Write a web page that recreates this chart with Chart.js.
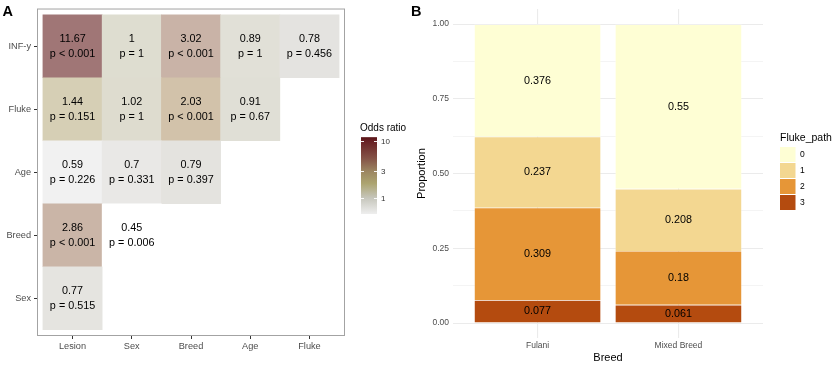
<!DOCTYPE html>
<html lang="en">
  <head>
    <meta charset="UTF-8" />
    <title>Odds ratio / Fluke path by breed</title>
    <script src="https://cdn.jsdelivr.net/npm/chart.js"></script>
    <style>
      body {
        margin: 0;
        background: #fff;
      }
      #wrap {
        position: relative;
        width: 835px;
        height: 368px;
      }
      #chartA {
        position: absolute;
        left: 0;
        top: 0;
      }
      #chartB {
        position: absolute;
        left: 410px;
        top: 0;
      }
    </style>
  </head>
  <body>
    <div id="wrap">
      <canvas id="chartA" width="410" height="368"></canvas>
      <canvas id="chartB" width="425" height="368"></canvas>
    </div>
  </body>
  <script>
    // ---- panel A : odds ratio matrix ----
    const colNames = ["Lesion", "Sex", "Breed", "Age", "Fluke"];
    const rowNames = ["Sex", "Breed", "Age", "Fluke", "INF-y"]; // bottom -> top
    const orInf = [11.67, 1, 3.02, 0.89, 0.78];
    const pInf = ["< 0.001", "= 1", "< 0.001", "= 1", "= 0.456"];
    const orFluke = [1.44, 1.02, 2.03, 0.91];
    const pFluke = ["= 0.151", "= 1", "< 0.001", "= 0.67"];
    const orAge = [0.59, 0.7, 0.79];
    const pAge = ["= 0.226", "= 0.331", "= 0.397"];
    const orBreed = [2.86, 0.45];
    const pBreed = ["< 0.001", "= 0.006"];
    const orSex = [0.77];
    const pSex = ["= 0.515"];
    const oddsTicks = [1, 3, 10];

    // ---- panel B : fluke path proportions ----
    const breeds = ["Fulani", "Mixed Breed"];
    const flukeLevels = ["0", "1", "2", "3"];
    const path0 = [0.376, 0.55];
    const path1 = [0.237, 0.208];
    const path2 = [0.309, 0.18];
    const path3 = [0.077, 0.061];
    const propTicks = [0, 0.25, 0.5, 0.75, 1];

    const FONT = '"Liberation Sans", Arial, sans-serif';

    // tile colours (already faded like the figure), log scale
    const cellStops = [
      [0.45, [255, 255, 255]],
      [0.6, [240, 240, 240]],
      [0.8, [227, 226, 222]],
      [1, [222, 221, 208]],
      [1.45, [214, 207, 180]],
      [2, [210, 195, 170]],
      [3, [201, 179, 167]],
      [11.67, [160, 118, 118]],
    ];
    // colourbar colours
    const barStops = [
      [0.45, [238, 238, 238]],
      [1, [198, 198, 188]],
      [1.8, [172, 164, 112]],
      [3, [155, 132, 96]],
      [5, [132, 82, 70]],
      [10, [104, 32, 36]],
      [11.67, [88, 18, 22]],
    ];

    const lerpColor = (stops, v) => {
      const lv = Math.log(v);
      if (lv <= Math.log(stops[0][0])) return stops[0][1];
      for (let i = 1; i < stops.length; i++) {
        const a = Math.log(stops[i - 1][0]);
        const b = Math.log(stops[i][0]);
        if (lv <= b) {
          const t = (lv - a) / (b - a);
          return stops[i - 1][1].map((c, k) => c + (stops[i][1][k] - c) * t);
        }
      }
      return stops[stops.length - 1][1];
    };
    const rgb = (c) => "rgb(" + c.map(Math.round).join(",") + ")";
    const cellColor = (v) => rgb(lerpColor(cellStops, v));

    const rowsData = [
      [orSex, pSex],
      [orBreed, pBreed],
      [orAge, pAge],
      [orFluke, pFluke],
      [orInf, pInf],
    ];

    const heatSets = rowsData.map(([ors, ps], r) => ({
      label: rowNames[r],
      data: ors.map((v, c) => ({ x: c + 1, y: [r + 0.5, r + 1.5], or: v, p: ps[c] })),
      backgroundColor: (ctx) => (ctx.raw ? cellColor(ctx.raw.or) : "#fff"),
      borderWidth: 0,
      grouped: false,
      barPercentage: 1,
      categoryPercentage: 1,
    }));

    const cellText = {
      id: "cellText",
      afterDatasetsDraw(chart) {
        const ctx = chart.ctx;
        ctx.save();
        ctx.font = "10.8px " + FONT;
        ctx.fillStyle = "#000";
        ctx.textAlign = "center";
        ctx.textBaseline = "middle";
        chart.data.datasets.forEach((ds, i) => {
          chart.getDatasetMeta(i).data.forEach((bar, j) => {
            const d = ds.data[j];
            const cy = (bar.y + bar.base) / 2;
            ctx.fillText(String(d.or), bar.x, cy - 7.5);
            ctx.fillText("p " + d.p, bar.x, cy + 7.5);
          });
        });
        ctx.restore();
      },
    };

    const frameAndGuide = {
      id: "frameAndGuide",
      afterDraw(chart) {
        const ctx = chart.ctx;
        const a = chart.chartArea;
        ctx.save();
        ctx.strokeStyle = "#a3a3a3";
        ctx.lineWidth = 1;
        ctx.strokeRect(a.left + 0.5, a.top + 0.5, a.right - a.left - 1, a.bottom - a.top - 1);

        // panel tag
        ctx.fillStyle = "#000";
        ctx.font = "bold 14.5px " + FONT;
        ctx.textBaseline = "alphabetic";
        ctx.fillText("A", 2.5, 15.5);

        // colourbar
        const ys = (v) => 198 - 57 * Math.log10(v);
        const bx = 361, bw = 16;
        const top = ys(11.67), bottom = 214;
        const g = ctx.createLinearGradient(0, top, 0, bottom);
        barStops.forEach(([v, c]) => {
          const t = Math.min(1, Math.max(0, (ys(v) - top) / (bottom - top)));
          g.addColorStop(t, rgb(c));
        });
        ctx.fillStyle = g;
        ctx.fillRect(bx, top, bw, bottom - top);

        ctx.strokeStyle = "rgba(255,255,255,0.9)";
        ctx.lineWidth = 1;
        ctx.font = "8px " + FONT;
        ctx.textBaseline = "middle";
        oddsTicks.forEach((v) => {
          const y = Math.round(ys(v)) + 0.5;
          ctx.beginPath();
          ctx.moveTo(bx, y);
          ctx.lineTo(bx + 3, y);
          ctx.moveTo(bx + bw - 3, y);
          ctx.lineTo(bx + bw, y);
          ctx.stroke();
          ctx.fillStyle = "#333";
          ctx.fillText(String(v), bx + bw + 4, y);
        });

        ctx.fillStyle = "#000";
        ctx.font = "10px " + FONT;
        ctx.textBaseline = "alphabetic";
        ctx.fillText("Odds ratio", 360, 131);
        ctx.restore();
      },
    };

    new Chart(document.getElementById("chartA"), {
      type: "bar",
      data: { datasets: heatSets },
      options: {
        responsive: false,
        animation: false,
        layout: { padding: { left: 0, top: 5, right: 65, bottom: 0 } },
        plugins: { legend: { display: false }, tooltip: { enabled: false } },
        scales: {
          x: {
            type: "linear",
            offset: false,
            min: 0.4,
            max: 5.6,
            afterBuildTicks: (s) => {
              s.ticks = colNames.map((_, i) => ({ value: i + 1 }));
            },
            afterFit: (s) => {
              s.height = 32;
            },
            grid: { offset: false, drawOnChartArea: false, drawTicks: true, tickLength: 3, color: "#333" },
            border: { display: false },
            ticks: {
              padding: 1.5,
              color: "#4d4d4d",
              font: { family: FONT, size: 9.2 },
              callback: (v) => colNames[v - 1],
            },
          },
          y: {
            type: "linear",
            min: 0.4,
            max: 5.6,
            afterBuildTicks: (s) => {
              s.ticks = rowNames.map((_, i) => ({ value: i + 1 }));
            },
            afterFit: (s) => {
              s.width = 37;
            },
            grid: { drawOnChartArea: false, drawTicks: true, tickLength: 3, color: "#333" },
            border: { display: false },
            ticks: {
              padding: 3,
              color: "#4d4d4d",
              font: { family: FONT, size: 9.2 },
              callback: (v) => rowNames[v - 1],
            },
          },
        },
      },
      plugins: [cellText, frameAndGuide],
    });

    // ---- panel B ----
    const flukeColors = ["#fefed4", "#f3d791", "#e69637", "#b44b0f"];
    const pathValues = [path0, path1, path2, path3];

    // stacked bottom-up: 3, 2, 1, 0
    const propSets = [3, 2, 1, 0].map((lvl) => ({
      label: flukeLevels[lvl],
      data: pathValues[lvl].map((v, i) => ({ x: i + 1, y: v })),
      backgroundColor: flukeColors[lvl],
      borderColor: "rgba(255,255,255,0.35)",
      borderWidth: 0.6,
      barPercentage: 0.9,
      categoryPercentage: 1,
    }));

    const barText = {
      id: "barText",
      afterDatasetsDraw(chart) {
        const ctx = chart.ctx;
        ctx.save();
        ctx.font = "10.8px " + FONT;
        ctx.fillStyle = "#000";
        ctx.textAlign = "center";
        ctx.textBaseline = "middle";
        chart.data.datasets.forEach((ds, i) => {
          chart.getDatasetMeta(i).data.forEach((bar, j) => {
            ctx.fillText(String(ds.data[j].y), bar.x, (bar.y + bar.base) / 2);
          });
        });
        ctx.restore();
      },
    };

    const legendB = {
      id: "legendB",
      afterDraw(chart) {
        const ctx = chart.ctx;
        ctx.save();
        ctx.fillStyle = "#000";
        ctx.font = "bold 14.5px " + FONT;
        ctx.fillText("B", 1, 15.5);

        ctx.font = "10.5px " + FONT;
        ctx.fillText("Fluke_path", 370, 141);
        ctx.font = "8.5px " + FONT;
        ctx.textBaseline = "middle";
        flukeLevels.forEach((lvl, i) => {
          const y = 147 + i * 16;
          ctx.fillStyle = flukeColors[i];
          ctx.fillRect(370, y, 15.5, 15);
          ctx.fillStyle = "#000";
          ctx.fillText(lvl, 390, y + 8);
        });
        ctx.restore();
      },
    };

    new Chart(document.getElementById("chartB"), {
      type: "bar",
      data: { datasets: propSets },
      options: {
        responsive: false,
        animation: false,
        layout: { padding: { left: 0, top: 4, right: 72, bottom: 0 } },
        plugins: { legend: { display: false }, tooltip: { enabled: false } },
        scales: {
          x: {
            type: "linear",
            stacked: true,
            offset: false,
            min: 0.4,
            max: 2.6,
            afterBuildTicks: (s) => {
              s.ticks = breeds.map((_, i) => ({ value: i + 1 }));
            },
            afterFit: (s) => {
              s.height = 30;
            },
            grid: { offset: false, drawTicks: false, color: "#ebebeb", lineWidth: 1.1 },
            border: { display: false },
            ticks: {
              padding: 3,
              color: "#4d4d4d",
              font: { family: FONT, size: 8.5 },
              callback: (v) => breeds[v - 1],
            },
            title: {
              display: true,
              text: "Breed",
              color: "#000",
              font: { family: FONT, size: 11 },
              padding: { top: 0, bottom: 3 },
            },
          },
          y: {
            stacked: true,
            min: -0.05,
            max: 1.05,
            afterBuildTicks: (s) => {
              const t = [];
              for (let i = 0; i < propTicks.length; i++) {
                t.push({ value: propTicks[i] });
                if (i < propTicks.length - 1) t.push({ value: (propTicks[i] + propTicks[i + 1]) / 2 });
              }
              s.ticks = t;
            },
            afterFit: (s) => {
              s.width = 43;
            },
            grid: {
              drawTicks: false,
              color: "#ebebeb",
              lineWidth: (c) => (c.tick && propTicks.includes(c.tick.value) ? 1.1 : 0.55),
            },
            border: { display: false },
            ticks: {
              padding: 4,
              color: "#4d4d4d",
              font: { family: FONT, size: 8.5 },
              callback: (v) => (propTicks.includes(v) ? v.toFixed(2) : ""),
            },
            title: {
              display: true,
              text: "Proportion",
              color: "#000",
              font: { family: FONT, size: 11 },
              padding: { top: 5, bottom: 0 },
            },
          },
        },
      },
      plugins: [barText, legendB],
    });
  </script>
</html>
